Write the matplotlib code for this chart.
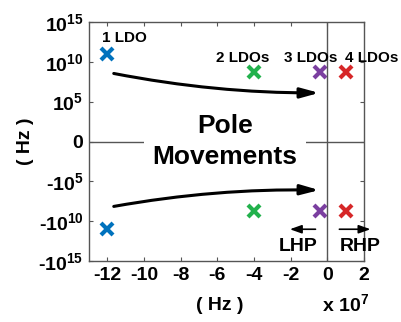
import matplotlib
matplotlib.use("Agg")
import matplotlib.pyplot as plt

plt.rcParams['font.family'] = ['Liberation Sans', 'DejaVu Sans']
plt.rcParams['font.weight'] = 'bold'
plt.rcParams['mathtext.fontset'] = 'custom'
plt.rcParams['mathtext.rm'] = 'Liberation Sans:bold'
plt.rcParams['mathtext.bf'] = 'Liberation Sans:bold'
plt.rcParams['mathtext.it'] = 'Liberation Sans:bold'

# Data (x in units of 1e7 Hz; y as signed log10 magnitude)
labels = ['1 LDO', '2 LDOs', '3 LDOs', '4 LDOs']
pole_real = [-12.0, -4.0, -0.4, 1.0]
pole_imag_log = [11.0, 8.7, 8.7, 8.7]
colors = ['#0072BD', '#22B14C', '#7B3FA0', '#D62728']
xticks = [-12, -10, -8, -6, -4, -2, 0, 2]
yticks = [-15, -10, -5, 0, 5, 10, 15]
ytick_labels = ['-' + r'$10^{15}$', '-' + r'$10^{10}$', '-' + r'$10^{5}$', '0',
                r'$10^{5}$', r'$10^{10}$', r'$10^{15}$']
label_pos_x = [-12.3, -4.6, -0.9, 2.4]
label_pos_y = [13.0, 10.5, 10.5, 10.5]

fig = plt.figure(figsize=(4.01, 3.22), dpi=100)
ax = fig.add_axes([0.222, 0.189, 0.686, 0.743])

for x, y, c in zip(pole_real, pole_imag_log, colors):
    ax.plot([x, x], [y, -y], linestyle='none', marker='x', color=c,
            markersize=8, markeredgewidth=3.0)

for lab, x, y in zip(labels, label_pos_x, label_pos_y):
    ha = 'left' if lab == '1 LDO' else 'center'
    ax.text(x, y, lab, ha=ha, va='center', fontsize=11, fontweight='bold',
            clip_on=False)

ax.axvline(0, color='#555555', lw=1.0)
ax.axhline(0, color='#555555', lw=1.0)

ax.text(-5.6, 1.9, 'Pole', ha='center', va='center', fontsize=19,
        fontweight='bold')
ax.text(-5.6, -2.0, 'Movements', ha='center', va='center', fontsize=19,
        fontweight='bold', bbox=dict(facecolor='white', edgecolor='none', pad=6))

# curved arrows
ax.annotate('', xy=(-0.3, 6.1), xytext=(-11.8, 8.6),
            arrowprops=dict(arrowstyle='-|>,head_length=1.1,head_width=0.3',
                            color='black', lw=2.2,
                            connectionstyle='arc3,rad=0.05'))
ax.annotate('', xy=(-0.3, -6.1), xytext=(-11.8, -8.2),
            arrowprops=dict(arrowstyle='-|>,head_length=1.1,head_width=0.3',
                            color='black', lw=2.2,
                            connectionstyle='arc3,rad=-0.05'))

# LHP / RHP
ax.annotate('', xy=(-2.2, -11.0), xytext=(-0.5, -11.0),
            arrowprops=dict(arrowstyle='-|>,head_length=0.7,head_width=0.25',
                            color='black', lw=1.2))
ax.annotate('', xy=(2.5, -11.0), xytext=(0.5, -11.0),
            arrowprops=dict(arrowstyle='-|>,head_length=0.7,head_width=0.25',
                            color='black', lw=1.2), annotation_clip=False)
ax.text(-1.6, -13.2, 'LHP', ha='center', va='center', fontsize=14,
        fontweight='bold')
ax.text(1.8, -13.2, 'RHP', ha='center', va='center', fontsize=14,
        fontweight='bold', clip_on=False)

ax.set_xlim(-13, 2)
ax.set_ylim(-15, 15)
ax.set_xticks(xticks)
ax.set_xticklabels([str(t) for t in xticks])
ax.set_yticks(yticks)
ax.set_yticklabels(ytick_labels)
ax.tick_params(direction='in', length=3, width=0.8, labelsize=14,
               top=True, right=True, color='#555555', pad=4)
for lab in ax.get_xticklabels() + ax.get_yticklabels():
    lab.set_fontweight('bold')
for s in ax.spines.values():
    s.set_color('#555555')
    s.set_linewidth(1.0)

ax.set_ylabel('( Hz )', fontsize=14, fontweight='bold')
ax.yaxis.set_label_coords(-0.2, 0.5)
fig.text(0.548, 0.052, '( Hz )', ha='center', va='center', fontsize=14,
         fontweight='bold')
fig.text(0.862, 0.055, r'x $10^{7}$', ha='center', va='center', fontsize=14,
         fontweight='bold')

fig.savefig('out.png', dpi=100)
